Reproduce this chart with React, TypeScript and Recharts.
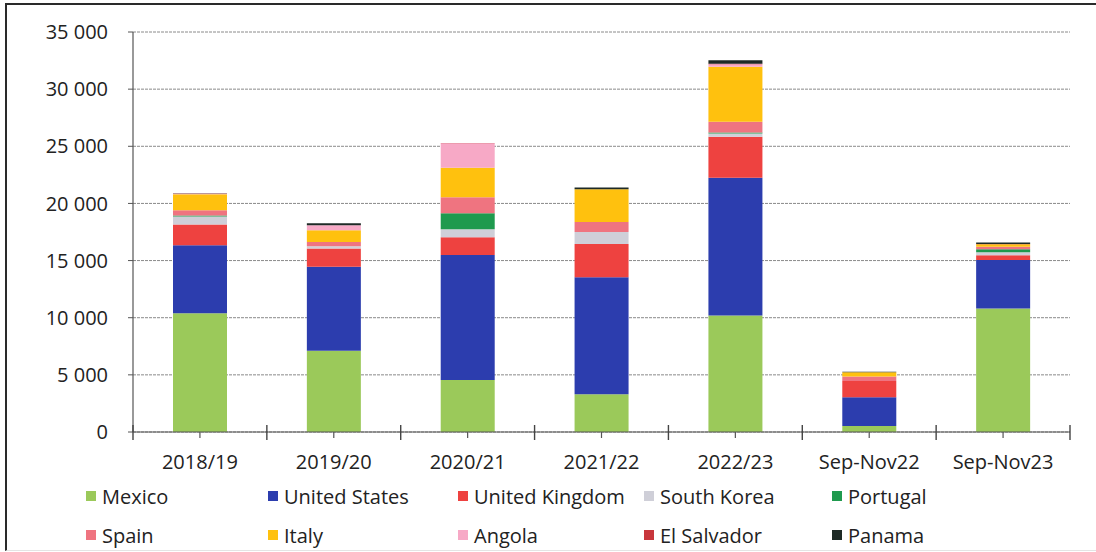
import { Bar, BarChart, CartesianGrid, Legend, XAxis, YAxis } from "recharts";

const categories = ["2018/19", "2019/20", "2020/21", "2021/22", "2022/23", "Sep-Nov22", "Sep-Nov23"];

const mexico = [10400, 7100, 4550, 3300, 10200, 520, 10800];
const unitedStates = [5950, 7350, 10940, 10230, 12040, 2520, 4260];
const unitedKingdom = [1800, 1600, 1540, 2920, 3590, 1430, 410];
const southKorea = [700, 200, 700, 1050, 290, 0, 260];
const portugal = [100, 0, 1400, 0, 90, 0, 260];
const spain = [450, 380, 1400, 875, 930, 380, 230];
const italy = [1400, 1020, 2600, 2860, 4810, 380, 200];
const angola = [50, 440, 2130, 0, 230, 0, 0];
const elSalvador = [20, 0, 30, 0, 50, 0, 40];
const panama = [30, 170, 0, 150, 300, 50, 130];

const yTicks = [0, 5000, 10000, 15000, 20000, 25000, 30000, 35000];

const series = [
  { key: "Mexico", values: mexico, color: "#9BC95A" },
  { key: "United States", values: unitedStates, color: "#2C3DAE" },
  { key: "United Kingdom", values: unitedKingdom, color: "#EE4240" },
  { key: "South Korea", values: southKorea, color: "#CFCFD8" },
  { key: "Portugal", values: portugal, color: "#1F9A4E" },
  { key: "Spain", values: spain, color: "#EF7480" },
  { key: "Italy", values: italy, color: "#FFC10E" },
  { key: "Angola", values: angola, color: "#F7A9C6" },
  { key: "El Salvador", values: elSalvador, color: "#C8363C" },
  { key: "Panama", values: panama, color: "#1E2A26" },
];

const data = categories.map((cat, i) => {
  const row: Record<string, string | number> = { cat };
  series.forEach((s) => (row[s.key] = s.values[i]));
  return row;
});

const W = 1096;
const H = 552;
const LEFT = 133;
const RIGHT = 26;
const FONT = "'Open Sans', 'Liberation Sans', sans-serif";
const legendCols = [86, 268, 458, 644, 832];

const fmt = (v: number) => String(v).replace(/\B(?=(\d{3})+(?!\d))/g, " ");

function XTick(props: any) {
  const { x, y, payload, index } = props;
  const band = (W - LEFT - RIGHT) / categories.length;
  return (
    <g>
      <line x1={x} x2={x} y1={y} y2={y + 6} stroke="#555" strokeWidth={1.2} />
      <line x1={x - band / 2} x2={x - band / 2} y1={y - 7} y2={y + 8} stroke="#444" strokeWidth={1.4} />
      {index === categories.length - 1 && (
        <line x1={x + band / 2} x2={x + band / 2} y1={y - 7} y2={y + 8} stroke="#444" strokeWidth={1.4} />
      )}
      <text x={x} y={y + 37} textAnchor="middle" fontSize={20} fill="#222" fontFamily={FONT}>
        {payload.value}
      </text>
    </g>
  );
}

function LegendBox() {
  return (
    <div style={{ position: "relative", width: W, height: 80, fontFamily: FONT, fontSize: 20, color: "#222" }}>
      {series.map((s, i) => {
        const col = i % 5;
        const row = Math.floor(i / 5);
        return (
          <div
            key={s.key}
            style={{
              position: "absolute",
              left: legendCols[col],
              top: row === 0 ? 10 : 49,
              height: 28,
              display: "flex",
              alignItems: "center",
              whiteSpace: "nowrap",
            }}
          >
            <span style={{ width: 10, height: 10, background: s.color, marginRight: 6, display: "inline-block" }} />
            <span>{s.key}</span>
          </div>
        );
      })}
    </div>
  );
}

export default function App() {
  return (
    <div style={{ position: "absolute", left: 0, top: 0, width: W, height: H, background: "#fff" }}>
      <div
        style={{
          position: "absolute",
          left: 5,
          top: 3,
          width: W - 5,
          height: H - 4,
          borderTop: "2px solid #2a2a2a",
          borderLeft: "2px solid #2a2a2a",
          borderBottom: "1px solid #e4e4e4",
          boxSizing: "border-box",
        }}
      />
      <BarChart
        width={W}
        height={H}
        data={data}
        margin={{ top: 32, right: RIGHT, left: 0, bottom: 0 }}
        barCategoryGap={0}
        style={{ position: "absolute", left: 0, top: 0 }}
      >
        <CartesianGrid vertical={false} stroke="#8a8a8a" strokeDasharray="3 1" />
        <XAxis
          dataKey="cat"
          height={40}
          axisLine={{ stroke: "#555", strokeWidth: 1.2 }}
          tickLine={false}
          tickSize={0}
          tickMargin={0}
          interval={0}
          tick={<XTick />}
        />
        <YAxis
          width={LEFT}
          domain={[0, 35000]}
          ticks={yTicks}
          tickFormatter={fmt}
          axisLine={{ stroke: "#555", strokeWidth: 1.2 }}
          tickLine={{ stroke: "#555" }}
          tickSize={5}
          tickMargin={20}
          tick={{ fontSize: 20, fill: "#222", fontFamily: FONT }}
        />
        <Legend
          verticalAlign="bottom"
          height={80}
          content={() => <LegendBox />}
          wrapperStyle={{ left: 0, width: W }}
        />
        {series.map((s) => (
          <Bar key={s.key} dataKey={s.key} stackId="a" fill={s.color} barSize={54} isAnimationActive={false} />
        ))}
      </BarChart>
    </div>
  );
}
